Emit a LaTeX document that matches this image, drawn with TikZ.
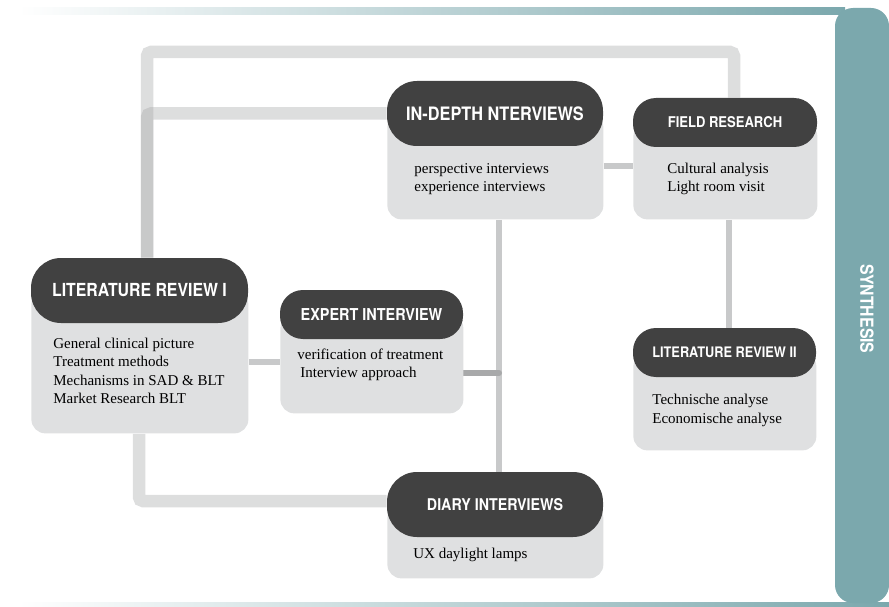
\documentclass[tikz,border=0pt]{standalone}
\usepackage{fontspec}
\usetikzlibrary{backgrounds}
\newfontfamily\hdfont{TeX Gyre Heros}[FakeStretch=0.88]
\newfontfamily\txtfont{Liberation Serif}
\definecolor{boxgray}{RGB}{223,224,225}
\definecolor{headgray}{RGB}{65,65,65}
\definecolor{linkgray}{RGB}{166,167,168}
\definecolor{midgray}{RGB}{200,201,202}
\definecolor{joingray}{RGB}{168,169,170}
\definecolor{synthteal}{RGB}{123,168,173}
\tikzset{every picture/.style={line width=0.75pt}}
\tikzset{
  boxbody/.style={fill=boxgray, rounded corners=14pt, inner sep=0pt, anchor=north west},
  boxhead/.style={fill=headgray, text=white, inner sep=0pt, font=\hdfont\bfseries\fontsize{#1}{#1}\selectfont},
  boxtext/.style={inner sep=0pt, align=left, anchor=base west, font=\txtfont\fontsize{15}{18.5}\selectfont},
  widelink/.style={line width=12.5pt, draw=linkgray, draw opacity=0.38, rounded corners=4pt},
  thinlink/.style={line width=6pt, draw=midgray},
}

\begin{document}
\begin{tikzpicture}[x=1pt,y=1pt,yscale=-1,xscale=1]
\useasboundingbox (0,0) rectangle (889,607);

%Shape: Gradient Bands
\shade [left color=white, right color=synthteal] (18,8) rectangle (845,14.5);
\shade [left color=white, right color=synthteal] (18,602) rectangle (889,607);
%Shape: Synthesis Panel
\fill [synthteal, rounded corners=18pt] (835,8) rectangle (889,603);
\node [text=white, font=\hdfont\bfseries\fontsize{18}{18}\selectfont, rotate=-90] (synth) at (867,309) {SYNTHESIS};

%Shape: Literature Review I
\node [boxbody, minimum width=217, minimum height=143] (litA) at (31,290) {};
\node [boxhead=18, minimum width=217, minimum height=65, rounded corners=30pt] (litAhd) at (139.5,290.5) {LITERATURE REVIEW I};
% base = last line
\node [boxtext] (litAtx) at (53,403.5) {General clinical picture\\Treatment methods\\Mechanisms in SAD \& BLT\\Market Research BLT};

%Shape: In-depth Interviews
\node [boxbody, minimum width=216, minimum height=106] (ind) at (387,113) {};
\node [boxhead=18.5, minimum width=216, minimum height=65, rounded corners=30pt] (indhd) at (495,113.5) {IN-DEPTH NTERVIEWS};
\node [boxtext, font=\txtfont\fontsize{15}{18}\selectfont] (indtx) at (414,191) {perspective interviews\\experience interviews};

%Shape: Field Research
\node [boxbody, minimum width=184, minimum height=97] (field) at (633,122) {};
\node [boxhead=14.8, minimum width=184, minimum height=49, rounded corners=23pt] (fieldhd) at (725,122.5) {FIELD RESEARCH};
\node [boxtext, font=\txtfont\fontsize{15}{18}\selectfont] (fieldtx) at (667,191) {Cultural analysis\\Light room visit};

%Shape: Expert Interview
\node [boxbody, minimum width=183, minimum height=99] (exp) at (280,314) {};
\node [boxhead=16.4, minimum width=183, minimum height=49, rounded corners=23pt] (exphd) at (371.5,314.5) {EXPERT INTERVIEW};
\node [boxtext, font=\txtfont\fontsize{15}{18}\selectfont] (exptx) at (297,377) {verification of treatment\\\hspace{3pt}Interview approach};

%Shape: Literature Review II
\node [boxbody, minimum width=183, minimum height=98] (litB) at (633,352) {};
\node [boxhead=14.5, minimum width=183, minimum height=49, rounded corners=23pt] (litBhd) at (724.5,352.5) {LITERATURE REVIEW II};
\node [boxtext, font=\txtfont\fontsize{15}{19}\selectfont] (litBtx) at (652,423) {Technische analyse\\Economische analyse};

%Shape: Diary Interviews
\node [boxbody, minimum width=216, minimum height=74] (dia) at (387,504) {};
\node [boxhead=16.2, minimum width=216, minimum height=65, rounded corners=30pt] (diahd) at (495,504.5) {DIARY INTERVIEWS};
\node [boxtext] (diatx) at (413,558) {UX daylight lamps};

\coordinate (tl) at (147,52);
\coordinate (tr) at (734,52);
\coordinate (bl) at (139,501);
\coordinate (vx) at (499,0);
\coordinate (vf) at (729,0);
\coordinate (ej) at (499,373);

\begin{scope}[on background layer]
%Straight Lines
\draw [widelink] (tl |- litAhd.north) -- (tl) -- (tr) -- (tr |- fieldhd.north);
%Straight Lines
\draw [widelink] (tl |- litAhd.north) |- (indhd.west);
%Straight Lines
\draw [widelink] (bl |- litA.south) -- (bl) -- (bl -| diahd.west);
%Straight Lines
\draw [thinlink] (litA.east) -- (litA.east -| exp.west);
%Straight Lines
\draw [thinlink] (ind.east) -- (ind.east -| field.west);
%Straight Lines
\draw [thinlink] (vx |- ind.south) -- (vx |- diahd.north);
%Straight Lines
\draw [thinlink] (vf |- field.south) -- (vf |- litBhd.north);
%Straight Lines
\draw [thinlink, draw=joingray, line cap=round] (ej -| exp.east) -- (ej);
\end{scope}

\end{tikzpicture}
\end{document}
